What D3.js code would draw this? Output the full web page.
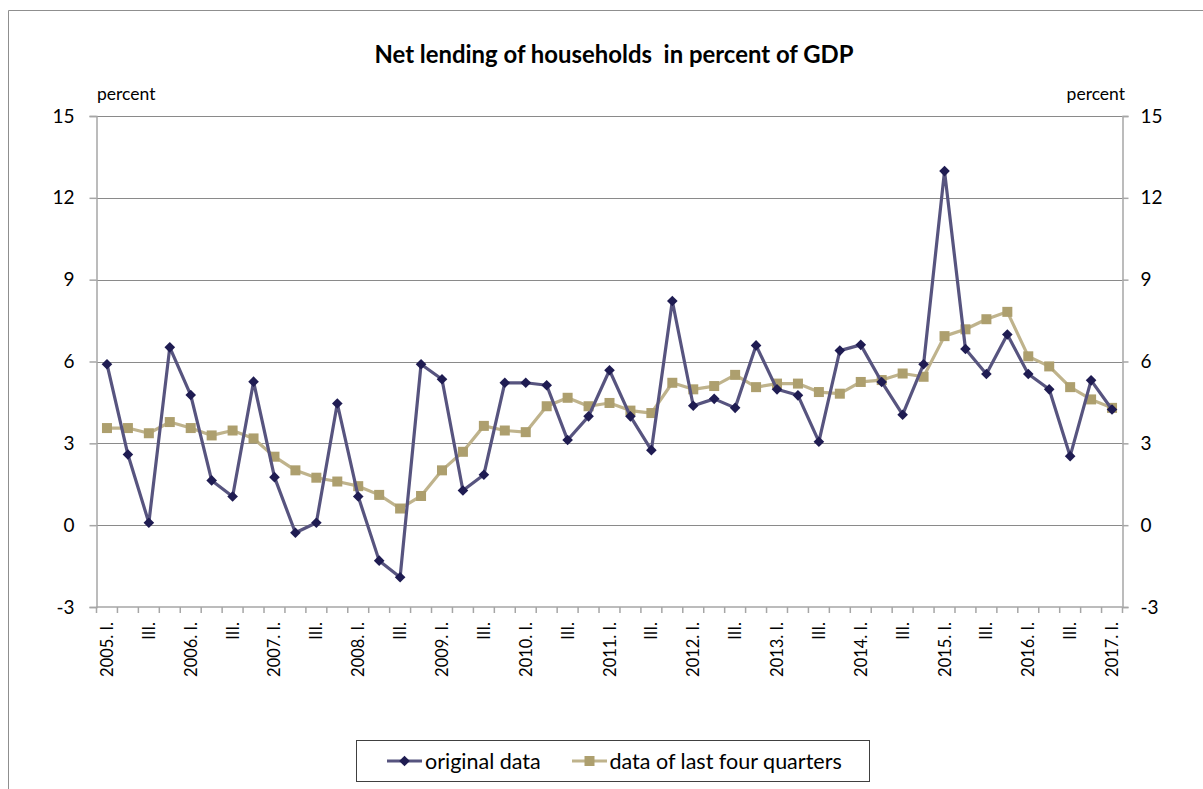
<!DOCTYPE html>
<html>
<head>
<meta charset="utf-8">
<script src="https://cdn.jsdelivr.net/npm/d3@7"></script>
<style>
  html, body { margin: 0; padding: 0; background: #fff; }
  svg { display: block; font-family: "Lato", "Liberation Sans", sans-serif; }
</style>
</head>
<body>
<svg id="chart" width="1203" height="789"></svg>
<script>
// Quarterly categories, 2005 Q1 .. 2017 Q1
const years = d3.range(2005, 2018);
const quarterNames = ["I.", "II.", "III.", "IV."];
const categories = [];
years.forEach(yr => quarterNames.forEach((q, qi) => {
  if (yr < 2017 || qi === 0) categories.push({ key: yr + "-" + (qi + 1), label: qi === 0 ? yr + ". " + q : q });
}));

// Net lending of households, percent of GDP (quarterly)
const originalData = [
  5.90, 2.59, 0.09, 6.52, 4.77, 1.64, 1.05, 5.26, 1.76, -0.28,
  0.09, 4.46, 1.05, -1.30, -1.91, 5.90, 5.35, 1.27, 1.85, 5.22,
  5.22, 5.13, 3.12, 3.99, 5.68, 3.99, 2.75, 8.22, 4.38, 4.63,
  4.30, 6.59, 4.98, 4.76, 3.06, 6.40, 6.61, 5.25, 4.05, 5.90,
  12.98, 6.46, 5.54, 6.99, 5.54, 4.98, 2.53, 5.31, 4.24
];
// Same measure over the last four quarters
const lastFourQuarters = [
  3.56, 3.56, 3.37, 3.78, 3.56, 3.29, 3.47, 3.18, 2.51, 2.01,
  1.74, 1.60, 1.43, 1.11, 0.61, 1.07, 2.01, 2.69, 3.64, 3.47,
  3.41, 4.36, 4.67, 4.36, 4.48, 4.20, 4.11, 5.22, 4.98, 5.10,
  5.51, 5.06, 5.19, 5.19, 4.88, 4.82, 5.25, 5.32, 5.56, 5.44,
  6.93, 7.18, 7.55, 7.82, 6.19, 5.82, 5.06, 4.61, 4.30
];
const yTicks = [-3, 0, 3, 6, 9, 12, 15];
const titleText = "Net lending of households  in percent of GDP";
const unitText = "percent";
const seriesNames = ["original data", "data of last four quarters"];

const svg = d3.select("#chart");
const plot = { left: 96.5, right: 1122.5, top: 116, bottom: 607 };

const x = d3.scaleBand().domain(categories.map(c => c.key)).range([plot.left, plot.right]).padding(0);
const y = d3.scaleLinear().domain([-3, 15]).range([plot.bottom, plot.top]);
const cx = k => x(k) + x.bandwidth() / 2;

const axisColor = "#a6a6a6";
const gridColor = "#8a8a8a";
const origLine = "#57547f", origMark = "#1f1c52";
const avgLine = "#bfb38c", avgMark = "#ad9f6e";

// Outer chart frame
svg.append("path").attr("d", "M8.5,789 V10.5 H1203").attr("fill", "none").attr("stroke", "#8f8f8f").attr("stroke-width", 1);

// Title
svg.append("text").attr("x", 614).attr("y", 63).attr("text-anchor", "middle")
  .style("white-space", "pre")
  .attr("font-size", 23.9).attr("font-weight", "bold").attr("fill", "#000").text(titleText);

// Unit labels
svg.append("text").attr("x", 97).attr("y", 100).attr("font-size", 17.5).text(unitText);
svg.append("text").attr("x", 1125).attr("y", 100).attr("text-anchor", "end").attr("font-size", 17.5).text(unitText);

// Horizontal gridlines
svg.append("g").selectAll("line").data(yTicks.filter(v => v > -3)).join("line")
  .attr("x1", plot.left).attr("x2", plot.right)
  .attr("y1", d => Math.round(y(d)) + 0.5).attr("y2", d => Math.round(y(d)) + 0.5)
  .attr("stroke", gridColor).attr("stroke-width", 1);

// Left and right value axes
const fmt = d => String(d);
const leftAxis = svg.append("g").attr("transform", `translate(${plot.left},0)`)
  .call(d3.axisLeft(y).tickValues(yTicks).tickSize(7).tickPadding(15).tickFormat(fmt));
const rightAxis = svg.append("g").attr("transform", `translate(${plot.right},0)`)
  .call(d3.axisRight(y).tickValues(yTicks).tickSize(6).tickPadding(12).tickFormat(fmt));
[leftAxis, rightAxis].forEach(g => {
  g.select(".domain").attr("stroke", axisColor).attr("stroke-width", 1.5);
  g.selectAll(".tick line").attr("stroke", axisColor).attr("stroke-width", 1.5);
  g.selectAll(".tick text").attr("font-size", 19).attr("fill", "#000").attr("font-family", "Lato, sans-serif");
});

// Category axis: ticks between quarters, labels on every second quarter
const bottom = svg.append("g").attr("transform", `translate(0,${plot.bottom})`);
bottom.append("line").attr("x1", plot.left).attr("x2", plot.right)
  .attr("stroke", axisColor).attr("stroke-width", 1.5);
bottom.selectAll("line.tick").data(categories.map(c => c.key).concat(["end"])).join("line")
  .attr("class", "tick")
  .attr("x1", d => d === "end" ? plot.right : x(d)).attr("x2", d => d === "end" ? plot.right : x(d))
  .attr("y1", 0).attr("y2", 6).attr("stroke", axisColor).attr("stroke-width", 1.5);
bottom.selectAll("text").data(categories.filter((c, i) => i % 2 === 0)).join("text")
  .attr("transform", d => `translate(${cx(d.key) + 6},15) rotate(-90)`)
  .attr("text-anchor", "end").attr("font-size", 16.5).attr("fill", "#000")
  .text(d => d.label);

// Series
const lineGen = vals => d3.line().x((d, i) => cx(categories[i].key)).y(d => y(d))(vals);

svg.append("path").attr("d", lineGen(lastFourQuarters)).attr("fill", "none")
  .attr("stroke", avgLine).attr("stroke-width", 3.2).attr("stroke-linejoin", "round");
svg.append("g").selectAll("rect").data(lastFourQuarters).join("rect")
  .attr("x", (d, i) => cx(categories[i].key) - 5).attr("y", d => y(d) - 5)
  .attr("width", 10).attr("height", 10).attr("fill", avgMark);

svg.append("path").attr("d", lineGen(originalData)).attr("fill", "none")
  .attr("stroke", origLine).attr("stroke-width", 3.2).attr("stroke-linejoin", "round");
const diamond = d3.symbol().type(d3.symbolDiamond2).size(72);
svg.append("g").selectAll("path").data(originalData).join("path")
  .attr("transform", (d, i) => `translate(${cx(categories[i].key)},${y(d)})`)
  .attr("d", diamond).attr("fill", origMark);

// Legend
const legend = svg.append("g");
legend.append("rect").attr("x", 356.5).attr("y", 740.5).attr("width", 513).attr("height", 41)
  .attr("fill", "#fff").attr("stroke", "#404040").attr("stroke-width", 1);
const items = [
  { name: seriesNames[0], x0: 387, line: origLine, mark: origMark, type: "diamond", tx: 425 },
  { name: seriesNames[1], x0: 572, line: avgLine, mark: avgMark, type: "square", tx: 609.5 }
];
items.forEach(it => {
  legend.append("line").attr("x1", it.x0).attr("x2", it.x0 + 35).attr("y1", 761).attr("y2", 761)
    .attr("stroke", it.line).attr("stroke-width", 3.2);
  if (it.type === "diamond") {
    legend.append("path").attr("transform", `translate(${it.x0 + 17.5},761)`).attr("d", diamond).attr("fill", it.mark);
  } else {
    legend.append("rect").attr("x", it.x0 + 12.5).attr("y", 756).attr("width", 10).attr("height", 10).attr("fill", it.mark);
  }
  legend.append("text").attr("x", it.tx).attr("y", 768.5).attr("font-size", 21.5).attr("fill", "#000").text(it.name);
});
</script>
</body>
</html>
